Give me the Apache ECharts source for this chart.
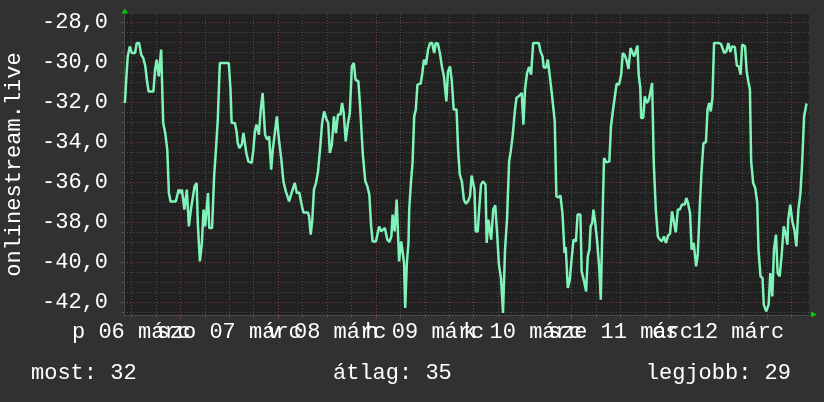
<!DOCTYPE html>
<html><head><meta charset="utf-8">
<script src="https://cdn.jsdelivr.net/npm/echarts@6/dist/echarts.min.js"></script>
<style>html,body{margin:0;padding:0;background:#313131;}#c{width:824px;height:402px;}</style>
</head><body><div id="c"></div>
<script>
// time in hours since "06 márc" 00:00
const hours = [
10.4,10.7,11.1,11.4,11.6,11.9,12.1,12.9,13.3,13.9,
14.4,14.9,15.4,15.8,16.2,17.4,17.8,18.2,18.7,19.3,
19.5,19.8,20.3,20.8,21.2,21.6,22.9,23.6,24.1,24.4,
25.0,25.6,26.1,26.6,27.0,27.5,28.0,28.3,28.8,29.3,
29.7,30.1,30.8,31.1,31.8,32.3,32.8,33.2,33.7,35.9,
36.3,36.6,37.4,37.8,38.1,38.5,39.1,39.5,39.9,40.2,
40.7,41.5,41.9,42.3,42.7,43.3,43.7,44.2,44.8,45.3,
45.8,46.3,46.7,47.2,47.7,48.2,48.8,49.3,49.9,50.7,
51.3,52.1,52.6,53.2,53.7,54.2,55.3,55.6,56.0,56.4,
56.8,57.3,57.8,58.4,58.8,59.3,59.9,60.3,60.7,61.2,
61.7,62.2,62.7,63.3,63.7,64.1,64.6,65.1,65.6,66.1,
66.6,67.0,67.7,68.1,68.5,68.8,69.2,69.4,69.9,70.4,
70.8,71.2,72.0,72.8,73.3,73.7,74.2,74.8,75.3,75.8,
76.1,76.6,77.1,77.5,77.7,78.2,78.5,78.9,79.2,79.6,
80.0,80.2,80.6,81.0,81.4,81.8,82.2,83.0,83.4,83.8,
84.3,84.8,85.3,85.8,86.3,86.7,87.2,87.7,88.2,88.7,
89.3,89.7,90.2,90.6,91.1,91.8,92.2,92.6,93.1,93.6,
94.1,94.6,95.1,95.5,95.9,96.2,96.5,97.0,97.4,97.8,
98.3,98.9,99.2,99.6,100.0,100.3,100.8,101.3,101.8,102.2,
102.7,103.2,103.5,103.7,104.2,104.7,105.1,105.6,106.1,106.5,
107.2,107.8,108.2,108.6,109.1,109.6,110.1,110.6,112.0,112.4,
112.9,113.2,113.8,114.2,114.7,115.3,115.9,116.3,116.8,117.3,
117.8,118.3,118.6,119.1,119.6,120.1,120.5,121.1,121.5,122.2,
122.5,123.1,123.6,124.0,124.4,124.7,125.1,125.4,125.8,126.3,
126.8,127.2,127.7,128.0,128.6,129.3,129.7,130.1,130.6,131.1,
131.7,132.2,132.6,133.1,133.6,134.0,134.5,135.0,135.4,135.8,
136.2,136.5,136.9,137.1,137.6,138.0,138.5,139.0,139.4,139.8,
140.2,140.7,141.2,141.7,142.2,142.7,143.2,143.7,144.2,144.7,
145.1,145.6,146.1,146.6,147.1,147.8,148.2,148.6,149.1,149.5,
150.0,150.6,151.0,151.5,151.9,152.4,153.0,153.4,153.8,154.2,
154.6,155.0,156.2,156.7,156.9,157.5,158.0,158.5,159.0,159.4,
160.1,160.6,161.1,161.5,161.9,162.6,163.0,163.4,163.8,164.1,
164.6,165.1,165.6,165.9,166.4,166.9,167.2,167.8,168.4,168.8,
169.3,169.7,170.2,170.6,171.1,171.6,172.1,172.6,173.0,173.2,
173.7,174.2,174.7,175.2,175.7,176.2,176.6,177.1,177.7
];
const values = [
-32.05,-30.97,-29.72,-29.72,-29.22,-29.22,-29.55,-29.55,-29.05,-29.05,
-29.63,-29.8,-30.2,-30.9,-31.47,-31.47,-30.4,-29.88,-30.72,-29.38,
-29.38,-33.05,-33.55,-34.38,-36.55,-36.97,-36.97,-36.38,-36.55,-36.38,
-37.38,-36.38,-38.22,-37.38,-37.38,-36.22,-36.05,-38.05,-39.97,-39.05,
-37.38,-38.22,-36.55,-38.3,-38.3,-35.72,-34.22,-32.88,-30.05,-30.05,
-31.3,-33.05,-33.05,-33.47,-34.05,-34.3,-34.13,-33.55,-33.55,-34.55,
-34.97,-35.05,-34.47,-33.47,-33.13,-33.63,-32.47,-31.55,-33.63,-33.88,
-33.72,-35.38,-34.38,-33.55,-32.72,-33.88,-34.88,-35.97,-36.47,-36.97,
-36.55,-36.05,-36.55,-36.52,-37.05,-37.52,-37.52,-37.72,-38.63,-37.88,
-36.38,-36.05,-35.47,-34.13,-33.05,-32.47,-32.88,-33.05,-34.55,-34.13,
-32.72,-33.55,-32.63,-32.63,-32.05,-32.55,-33.97,-33.13,-32.55,-30.22,
-30.05,-30.88,-30.97,-32.13,-32.22,-34.63,-34.63,-35.97,-36.22,-36.63,
-38.13,-38.97,-38.97,-38.22,-38.47,-38.47,-38.3,-38.88,-39.0,-38.72,
-37.63,-38.47,-36.88,-36.88,-39.97,-38.97,-39.38,-40.05,-42.3,-40.05,
-39.05,-37.3,-36.05,-35.05,-32.72,-32.38,-31.13,-31.08,-30.55,-29.88,
-30.13,-29.38,-29.05,-29.05,-29.55,-29.05,-29.08,-29.55,-30.22,-30.72,
-31.97,-30.47,-30.22,-30.88,-32.38,-32.38,-34.47,-35.63,-35.97,-36.88,
-37.08,-36.97,-36.72,-35.68,-35.72,-36.38,-38.47,-38.47,-37.22,-36.13,
-35.97,-36.13,-39.05,-37.88,-37.97,-38.88,-37.38,-37.17,-38.72,-40.13,
-40.8,-42.55,-42.47,-39.38,-37.8,-34.97,-34.47,-33.63,-32.47,-31.8,
-31.68,-31.55,-33.13,-31.38,-30.55,-30.25,-30.63,-29.05,-29.05,-29.47,
-29.72,-30.27,-30.27,-29.88,-30.72,-31.8,-32.97,-36.72,-36.77,-36.67,
-37.58,-39.55,-39.25,-41.3,-40.88,-39.72,-38.88,-38.97,-37.63,-37.63,
-40.47,-40.97,-41.47,-39.72,-39.38,-38.22,-38.05,-37.38,-37.97,-38.97,
-40.22,-41.88,-37.22,-34.8,-35.02,-34.97,-33.22,-32.55,-31.8,-31.08,
-31.13,-30.63,-29.55,-29.67,-29.97,-30.35,-29.3,-29.55,-29.72,-29.72,
-29.18,-30.63,-31.3,-32.8,-32.8,-31.72,-32.05,-31.88,-31.47,-31.05,
-35.05,-37.38,-38.72,-38.88,-38.97,-38.72,-39.05,-38.68,-38.58,-37.47,
-37.55,-38.52,-37.38,-37.38,-37.13,-37.13,-36.8,-37.05,-37.55,-39.38,
-39.05,-40.22,-39.63,-37.22,-35.55,-34.05,-34.02,-32.38,-32.05,-32.47,
-31.8,-29.05,-29.05,-29.1,-29.05,-29.55,-29.47,-29.05,-29.5,-29.22,
-29.25,-30.18,-30.22,-30.63,-29.13,-29.22,-30.47,-30.97,-31.38,-34.97,
-36.05,-36.3,-37.05,-39.38,-40.72,-40.8,-42.13,-42.47,-42.13,-40.55,
-41.72,-39.38,-38.63,-40.55,-40.72,-39.63,-38.22,-38.63,-39.13,-37.88,
-37.13,-37.97,-38.38,-39.22,-37.38,-36.55,-35.13,-32.72,-32.08
];
const dayNoons = [12, 36, 60, 84, 108, 132, 156];
const dayLabels = ['p 06 márc','szo 07 márc','v 08 márc','h 09 márc','k 10 márc','sze 11 márc','cs 12 márc'];
const yMajorTicks = [-42, -40, -38, -36, -34, -32, -30, -28];
const statTexts = ['most: 32', 'átlag: 35', 'legjobb: 29'];
const axisTitle = 'onlinestream.live';

const X_MIN = 10.18, X_MAX = 178.3, Y_MIN = -42.65, Y_MAX = -27.6;
const GL = 124, GT = 14, GW = 685, GH = 301;
const FONT = 'Liberation Mono';
const MAJOR = '#7a3b3b', MINOR = '#4c4c4c';

const xMinor = [], xMajor = [];
for (let h = 6; h < X_MAX; h += 6) { if (h > X_MIN) { (h % 24 === 0 ? xMajor : xMinor).push(h); } }
const yMinor = [];
for (let v = -42.5; v <= -28; v += 0.5) { if (v % 2 !== 0) yMinor.push(v); }
// labels overlap each other in the original; spread them over two axes so none is hidden
const noonsA = dayNoons.filter((_, i) => i % 2 === 0);
const noonsB = dayNoons.filter((_, i) => i % 2 === 1);
const dayLabelFmt = v => dayLabels[dayNoons.indexOf(v)];
const xLabelStyle = {show: true, margin: 6, color: '#fff', fontFamily: FONT, fontSize: 22,
  showMinLabel: true, showMaxLabel: true, hideOverlap: false, formatter: dayLabelFmt};

const chart = echarts.init(document.getElementById('c'), null, {renderer: 'canvas'});
chart.setOption({
  backgroundColor: '#313131',
  animation: false,
  grid: {left: GL, top: GT, width: GW, height: GH, show: true, backgroundColor: '#212121', borderWidth: 0,
         containLabel: false, outerBoundsMode: 'none'},
  title: [
    {text: statTexts[0], left: 31, top: 362, padding: 0, textStyle: {color: '#fff', fontFamily: FONT, fontSize: 22, fontWeight: 'normal'}},
    {text: statTexts[1], left: 333, top: 362, padding: 0, textStyle: {color: '#fff', fontFamily: FONT, fontSize: 22, fontWeight: 'normal'}},
    {text: statTexts[2], right: 33, top: 362, padding: 0, textStyle: {color: '#fff', fontFamily: FONT, fontSize: 22, fontWeight: 'normal'}}
  ],
  xAxis: [
    {type: 'value', min: X_MIN, max: X_MAX, position: 'bottom',
     axisLine: {show: true, lineStyle: {color: '#4a4a4a', width: 1}},
     axisTick: {show: true, customValues: xMinor, length: 3, lineStyle: {color: MINOR}},
     splitLine: {show: true, lineStyle: {color: MINOR, type: [1, 2], width: 1}},
     axisLabel: Object.assign({customValues: noonsA}, xLabelStyle)},
    {type: 'value', min: X_MIN, max: X_MAX, position: 'bottom',
     axisLine: {show: false},
     axisTick: {show: true, customValues: xMajor, length: 4, lineStyle: {color: MAJOR}},
     splitLine: {show: true, lineStyle: {color: MAJOR, type: [1, 2], width: 1}},
     axisLabel: Object.assign({customValues: noonsB}, xLabelStyle)}
  ],
  yAxis: [
    {type: 'value', min: Y_MIN, max: Y_MAX, position: 'left',
     axisLine: {show: true, lineStyle: {color: '#4a4a4a', width: 1}},
     axisTick: {show: true, customValues: yMinor, length: 3, lineStyle: {color: MINOR}},
     splitLine: {show: true, lineStyle: {color: MINOR, type: [1, 2], width: 1}},
     axisLabel: {show: false}},
    {type: 'value', min: Y_MIN, max: Y_MAX, position: 'left',
     name: axisTitle, nameLocation: 'middle', nameGap: 99,
     nameTextStyle: {color: '#fff', fontFamily: FONT, fontSize: 22},
     axisLine: {show: false},
     axisTick: {show: true, customValues: yMajorTicks, length: 4, lineStyle: {color: MAJOR}},
     splitLine: {show: true, lineStyle: {color: MAJOR, type: [1, 2], width: 1}},
     axisLabel: {show: true, customValues: yMajorTicks, margin: 16, color: '#fff', fontFamily: FONT, fontSize: 22,
       showMinLabel: true, showMaxLabel: true,
       formatter: v => v.toFixed(1).replace('.', ',')}}
  ],
  graphic: [
    {type: 'polygon', shape: {points: [[GL - 2.5, GT - 0.5], [GL + 0.8, GT - 5.5], [GL + 4, GT - 0.5]]}, style: {fill: '#00cc00'}},
    {type: 'polygon', shape: {points: [[GL + GW + 2, GT + GH - 3.5], [GL + GW + 8, GT + GH - 0.5], [GL + GW + 2, GT + GH + 2.5]]}, style: {fill: '#00cc00'}}
  ],
  series: [{
    type: 'line', xAxisIndex: 0, yAxisIndex: 0, showSymbol: false, symbol: 'none',
    data: hours.map((h, i) => [h, values[i]]),
    lineStyle: {color: '#7ff3b8', width: 2.5},
    clip: true
  }]
});
</script></body></html>
